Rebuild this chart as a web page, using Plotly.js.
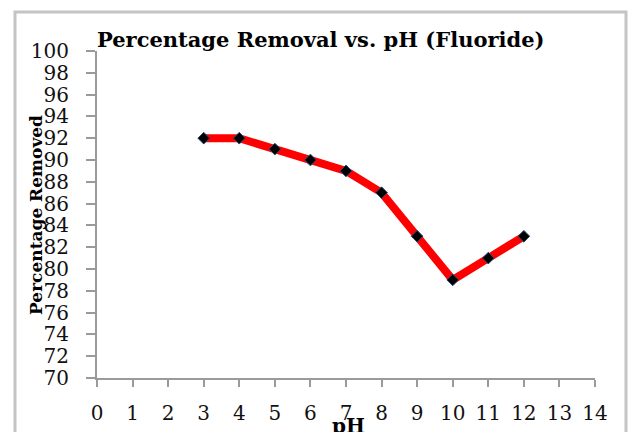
<!DOCTYPE html>
<html>
<head>
<meta charset="utf-8">
<script src="https://cdn.plot.ly/plotly-3.0.1.min.js"></script>
<style>html,body{margin:0;padding:0;background:#fff;}#chart{width:630px;height:432px;}</style>
</head>
<body>
<div id="chart"></div>
<script>
var pH = [3, 4, 5, 6, 7, 8, 9, 10, 11, 12];
var percentRemoved = [92, 92, 91, 90, 89, 87, 83, 79, 81, 83];
var xTicks = [0, 1, 2, 3, 4, 5, 6, 7, 8, 9, 10, 11, 12, 13, 14];
var yTicks = [70, 72, 74, 76, 78, 80, 82, 84, 86, 88, 90, 92, 94, 96, 98, 100];

var font = "DejaVu Serif, Liberation Serif, serif";

var trace = {
  x: pH,
  y: percentRemoved,
  type: 'scatter',
  mode: 'lines+markers',
  line: {color: '#ff0000', width: 8},
  marker: {symbol: 'diamond', size: 9, color: '#000000', line: {color: '#2b4a7a', width: 1}},
  showlegend: false,
  cliponaxis: false
};

var layout = {
  width: 630,
  height: 432,
  margin: {l: 97, r: 35, t: 51, b: 54, pad: 0},
  paper_bgcolor: '#ffffff',
  plot_bgcolor: '#ffffff',
  title: {
    text: '<b>Percentage Removal vs. pH (Fluoride)</b>',
    font: {family: font, size: 21, color: '#000000'},
    xref: 'paper', x: 0, xanchor: 'left',
    yref: 'container', y: 1 - 40 / 432, yanchor: 'middle'
  },
  xaxis: {
    range: [0, 14],
    tickvals: xTicks,
    ticktext: xTicks.map(String),
    showgrid: false,
    zeroline: false,
    showline: true,
    linecolor: '#9a9a9a',
    linewidth: 2,
    ticks: 'outside',
    ticklen: 7,
    tickwidth: 2,
    tickcolor: '#9a9a9a',
    ticklabelstandoff: 9,
    tickfont: {family: font, size: 20, color: '#111111'}
  },
  yaxis: {
    range: [70, 100],
    tickvals: yTicks,
    ticktext: yTicks.map(String),
    showgrid: false,
    zeroline: false,
    showline: true,
    linecolor: '#9a9a9a',
    linewidth: 2,
    ticks: 'outside',
    ticklen: 9,
    tickwidth: 2,
    tickcolor: '#9a9a9a',
    ticklabelstandoff: 13,
    tickfont: {family: font, size: 20, color: '#111111'}
  },
  annotations: [
    {
      text: '<b>Percentage Removed</b>',
      xref: 'paper', yref: 'paper',
      x: (36 - 97) / 498, y: (378 - 215) / 327,
      xanchor: 'center', yanchor: 'middle',
      textangle: -90,
      showarrow: false,
      font: {family: font, size: 17, color: '#000000'}
    },
    {
      text: '<b>pH</b>',
      xref: 'paper', yref: 'paper',
      x: (348 - 97) / 498, y: (378 - 426) / 327,
      xanchor: 'center', yanchor: 'middle',
      showarrow: false,
      font: {family: font, size: 20, color: '#000000'}
    }
  ],
  shapes: [
    {
      type: 'rect', xref: 'paper', yref: 'paper', layer: 'below',
      x0: (15 - 97) / 498, x1: (626 - 97) / 498,
      y0: (378 - 445) / 327, y1: (378 - 12) / 327,
      line: {color: '#c4c4c4', width: 3},
      fillcolor: 'rgba(0,0,0,0)'
    }
  ]
};

Plotly.newPlot('chart', [trace], layout, {displayModeBar: false, staticPlot: true});
</script>
</body>
</html>
